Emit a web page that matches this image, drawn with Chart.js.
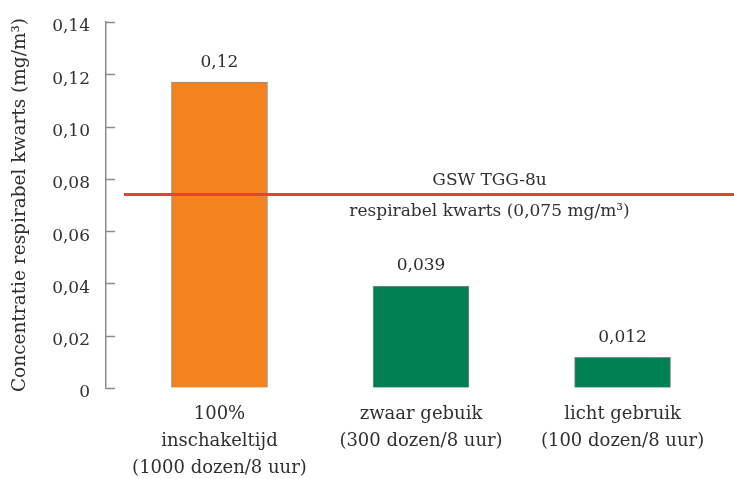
<!DOCTYPE html>
<html>
<head>
<meta charset="utf-8">
<script src="https://cdn.jsdelivr.net/npm/chart.js@4/dist/chart.umd.min.js"></script>
<style>
  html, body { margin: 0; padding: 0; background: #fff; }
  #wrap { width: 734px; height: 479px; }
</style>
</head>
<body>
<div id="wrap"><canvas id="myChart" width="734" height="479"></canvas></div>
<script>
const categories = [
  ['100%', 'inschakeltijd', '(1000 dozen/8 uur)'],
  ['zwaar gebuik', '(300 dozen/8 uur)'],
  ['licht gebruik', '(100 dozen/8 uur)']
];
const concentrations = [0.117, 0.039, 0.0117];
const barColors = ['#f4821f', '#007f52', '#007f52'];
const yTicks = [0, 0.02, 0.04, 0.06, 0.08, 0.10, 0.12, 0.14];
const limitValue = 0.074;
const limitLabels = ['GSW TGG-8u', 'respirabel kwarts (0,075 mg/m³)'];
const yTitle = 'Concentratie respirabel kwarts (mg/m³)';

const textColor = '#303030';
const fontFamily = '"DejaVu Serif", serif';
const fmt = v => v === 0 ? '0' : v.toFixed(2).replace('.', ',');

// short tick marks pointing into the plot
const innerTicks = {
  id: 'innerTicks',
  afterDraw(chart) {
    const ctx = chart.ctx;
    const y = chart.scales.y;
    ctx.save();
    ctx.strokeStyle = '#8c8c8c';
    ctx.lineWidth = 1.5;
    yTicks.forEach(v => {
      const py = Math.round(y.getPixelForValue(v)) + 0.5;
      ctx.beginPath();
      ctx.moveTo(y.right, py);
      ctx.lineTo(y.right + 9, py);
      ctx.stroke();
    });
    ctx.restore();
  }
};

// limit line, its caption and the value labels above the bars
const extras = {
  id: 'extras',
  afterDatasetsDraw(chart) {
    const ctx = chart.ctx;
    const area = chart.chartArea;
    const y = chart.scales.y;
    const x = chart.scales.x;
    const ly = y.getPixelForValue(limitValue);
    ctx.save();
    ctx.strokeStyle = '#e8413a';
    ctx.lineWidth = 3;
    ctx.beginPath();
    ctx.moveTo(area.left + 18, ly);
    ctx.lineTo(area.right, ly);
    ctx.stroke();

    ctx.fillStyle = textColor;
    ctx.font = '17px ' + fontFamily;
    ctx.textAlign = 'center';
    ctx.textBaseline = 'middle';
    const cx = x.getPixelForValue(1.34);
    ctx.fillText(limitLabels[0], cx, ly - 14);
    ctx.fillText(limitLabels[1], cx, ly + 17);

    chart.getDatasetMeta(0).data.forEach((bar, i) => {
      const label = concentrations[i].toPrecision(2).replace('.', ',');
      ctx.fillText(label, bar.x, bar.y - 20);
    });
    ctx.restore();
  }
};

const ctx = document.getElementById('myChart').getContext('2d');
const myChart = new Chart(ctx, {
  type: 'bar',
  data: {
    datasets: [{
      data: concentrations.map((v, i) => ({ x: i, y: v })),
      backgroundColor: barColors,
      borderColor: '#8c8c8c',
      borderWidth: 1,
      barThickness: 96
    }]
  },
  options: {
    responsive: false,
    animation: false,
    layout: { padding: { top: 22, left: 8, right: 0, bottom: 0 } },
    plugins: {
      legend: { display: false },
      tooltip: { enabled: false }
    },
    scales: {
      x: {
        type: 'linear',
        min: -0.563,
        max: 2.553,
        offset: false,
        grid: { display: false, offset: false },
        border: { display: false },
        afterBuildTicks: axis => { axis.ticks = categories.map((c, i) => ({ value: i })); },
        afterFit: axis => { axis.height = 91; },
        ticks: {
          padding: 5,
          color: textColor,
          font: { family: fontFamily, size: 18, lineHeight: 1.5 },
          maxRotation: 0,
          autoSkip: false,
          callback: value => categories[value] || ''
        }
      },
      y: {
        min: 0,
        max: 0.14,
        grid: { drawOnChartArea: false, drawTicks: false },
        border: { color: '#8c8c8c', width: 1.5 },
        afterBuildTicks: axis => { axis.ticks = yTicks.map(v => ({ value: v })); },
        afterFit: axis => {
          axis.width = 98;
          axis.paddingTop = 10;
          axis.paddingBottom = 10;
        },
        ticks: {
          padding: 16,
          labelOffset: 5,
          color: textColor,
          font: { family: fontFamily, size: 17 },
          callback: value => fmt(value)
        },
        title: {
          display: true,
          text: yTitle,
          color: textColor,
          font: { family: fontFamily, size: 18.5 },
          padding: { top: 1, bottom: 0 }
        }
      }
    }
  },
  plugins: [innerTicks, extras]
});
</script>
</body>
</html>
